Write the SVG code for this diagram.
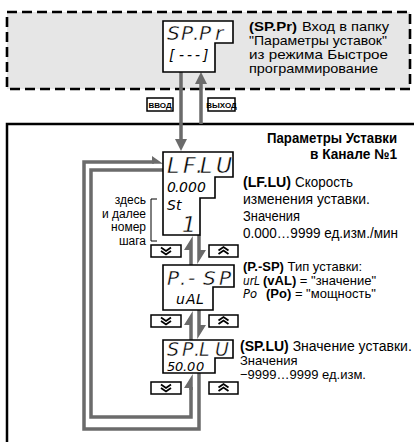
<svg xmlns="http://www.w3.org/2000/svg" width="414" height="442" viewBox="0 0 414 442">
<style>
.disp{fill:#fff;stroke:#000;stroke-width:1.6}
.seg{font-family:"DejaVu Sans",sans-serif;font-style:italic;fill:#000;stroke:#fff;stroke-width:0.4}
.segs{font-family:"DejaVu Sans",sans-serif;font-style:italic;fill:#000}
.segi{font-family:"DejaVu Sans",sans-serif;font-style:italic;font-size:11.5px;fill:#000}
.t{font-family:"Liberation Sans",Arial,sans-serif;font-size:14px;fill:#000}
.s{font-size:13px}
.n{font-size:12px;text-anchor:end}
.b{font-weight:bold}
.arr{fill:#6b6b6b}
.loop{fill:none;stroke:#6b6b6b;stroke-width:3.5}
.btn{fill:#fff;stroke:#000;stroke-width:1.5}
.chev{fill:none;stroke:#000;stroke-width:1.8}
.lbl{font-family:"Liberation Sans",Arial,sans-serif;font-size:8px;font-weight:bold;text-anchor:middle}
</style>
<rect width="414" height="442" fill="#fff"/>
<rect x="7" y="12" width="403" height="77" fill="#e6e6e6" stroke="#000" stroke-width="2.6" stroke-dasharray="10 5"/>
<rect x="7" y="124" width="420" height="330" fill="none" stroke="#000" stroke-width="2.5"/>

<g id="connectors">
  <rect x="179.25" y="72" width="3.5" height="68" class="arr"/>
  <polygon points="175,139 187,139 181,151" class="arr"/>
  <rect x="199.25" y="83" width="3.5" height="41" class="arr"/>
  <polygon points="195,84 207,84 201,72" class="arr"/>
  <g id="btn-enter"><rect x="147" y="98" width="26" height="13" class="btn"/><text x="160" y="107.5" class="lbl">ВВОД</text></g>
  <g id="btn-exit"><rect x="208" y="98" width="27" height="13" class="btn"/><text x="221.5" y="107.5" class="lbl">ВЫХОД</text></g>
  <polygon points="192.75,236 192.75,265 189.25,265 189.25,250 184,250" class="arr"/>
  <polygon points="197.25,235 200.75,235 200.75,250 206,250 197.25,264" class="arr"/>
  <polygon points="192.75,311 192.75,340 189.25,340 189.25,325 184,325" class="arr"/>
  <polygon points="197.25,310 200.75,310 200.75,325 206,325 197.25,339" class="arr"/>
  <polyline points="199,373 199,429 84,429 84,162 154,162" class="loop"/>
  <polygon points="152,160.25 152,163.75 163,163.75 152,156" class="arr"/>
  <polyline points="163,170 91,170 91,417 191,417 191,387" class="loop"/>
  <polygon points="192.75,374 192.75,390 189.25,390 189.25,388 184,388" class="arr"/>
  <g id="btns1">
    <rect x="151" y="245" width="30" height="12" class="btn"/>
    <polyline points="161,247.5 166,251 171,247.5" class="chev"/><polyline points="161,251 166,254.5 171,251" class="chev"/>
    <rect x="209" y="245" width="29" height="12" class="btn"/>
    <polyline points="218.5,250.5 223.5,247 228.5,250.5" class="chev"/><polyline points="218.5,254 223.5,250.5 228.5,254" class="chev"/>
  </g>
  <g id="btns2">
    <rect x="151" y="315" width="30" height="12" class="btn"/>
    <polyline points="161,317.5 166,321 171,317.5" class="chev"/><polyline points="161,321 166,324.5 171,321" class="chev"/>
    <rect x="209" y="315" width="29" height="12" class="btn"/>
    <polyline points="218.5,320.5 223.5,317 228.5,320.5" class="chev"/><polyline points="218.5,324 223.5,320.5 228.5,324" class="chev"/>
  </g>
  <g id="btns3">
    <rect x="151" y="382" width="30" height="12" class="btn"/>
    <polyline points="161,384.5 166,388 171,384.5" class="chev"/><polyline points="161,388 166,391.5 171,388" class="chev"/>
    <rect x="209" y="382" width="29" height="12" class="btn"/>
    <polyline points="218.5,387.5 223.5,384 228.5,387.5" class="chev"/><polyline points="218.5,391 223.5,387.5 228.5,391" class="chev"/>
  </g>
</g>

<g id="node-sppr">
  <path d="M163,21 H233 V43 H215 V72 H163 Z" class="disp"/>
  <text class="seg" font-size="20" x="167 181 193 199 215" y="40">SP.Pr</text>
  <text class="segs" font-size="14" x="169 179 187 195 203" y="60">[---]</text>
  <text class="t s b" x="249" y="31" textLength="48" lengthAdjust="spacingAndGlyphs">(SP.Pr)</text>
  <text class="t s" x="302" y="31" textLength="87" lengthAdjust="spacingAndGlyphs">Вход в папку</text>
  <text class="t s" x="249" y="45" textLength="138" lengthAdjust="spacingAndGlyphs">"Параметры уставок"</text>
  <text class="t s" x="249" y="59" textLength="139" lengthAdjust="spacingAndGlyphs">из режима Быстрое</text>
  <text class="t s" x="249" y="73" textLength="129" lengthAdjust="spacingAndGlyphs">программирование</text>
</g>

<g id="header">
  <text class="t b" x="397" y="143" text-anchor="end" textLength="130" lengthAdjust="spacingAndGlyphs">Параметры Уставки</text>
  <text class="t b" x="397" y="159" text-anchor="end" textLength="87" lengthAdjust="spacingAndGlyphs">в Канале №1</text>
</g>

<g id="node-lflu">
  <path d="M163,152 H233 V177 H215 V198 H200 V235 H163 Z" class="disp"/>
  <text class="seg" font-size="22" x="167 183 196 200 216" y="173">LF.LU</text>
  <text class="segs" font-size="14" x="167 175 179 188 197" y="192">0.000</text>
  <text class="segs" font-size="14" x="167 176" y="210">St</text>
  <text class="seg" font-size="22" x="182" y="232">1</text>
  <text class="t b" x="243" y="187" textLength="48" lengthAdjust="spacingAndGlyphs">(LF.LU)</text>
  <text class="t" x="295" y="187" textLength="58" lengthAdjust="spacingAndGlyphs">Скорость</text>
  <text class="t" x="243" y="204" textLength="127" lengthAdjust="spacingAndGlyphs">изменения уставки.</text>
  <text class="t" x="243" y="221" textLength="57" lengthAdjust="spacingAndGlyphs">Значения</text>
  <text class="t" x="243" y="238" textLength="155" lengthAdjust="spacingAndGlyphs">0.000…9999 ед.изм./мин</text>
</g>

<g id="note-step">
  <path d="M157,199 H151 V241 H157" fill="none" stroke="#000" stroke-width="1"/>
  <text class="t n" x="146" y="204">здесь</text>
  <text class="t n" x="146" y="217.7">и далее</text>
  <text class="t n" x="146" y="231.3">номер</text>
  <text class="t n" x="146" y="245">шага</text>
</g>

<g id="node-psp">
  <path d="M163,265 H234 V287 H213 V310 H163 Z" class="disp"/>
  <text class="seg" font-size="20" x="167 180 188 203 219" y="285">P.-SP</text>
  <text class="segs" font-size="14" x="176 186 196" y="304">uAL</text>
  <text class="t s" x="243" y="271"><tspan class="b">(P.-SP)</tspan> Тип уставки:</text>
  <text class="segi" x="243" y="284.5" textLength="17" lengthAdjust="spacingAndGlyphs">urL</text>
  <text class="t s" x="263" y="284.5"><tspan class="b">(vAL)</tspan> = "значение"</text>
  <text class="segi" x="243" y="298">Po</text>
  <text class="t s" x="266" y="298"><tspan class="b">(Po)</tspan> = "мощность"</text>
</g>

<g id="node-splu">
  <path d="M163,340 H233 V358 H215 V373 H163 Z" class="disp"/>
  <text class="seg" font-size="19" x="167 182 194 199 215" y="356">SP.LU</text>
  <text class="segs" font-size="13" x="167 175 183 187 196" y="371">50.00</text>
  <text class="t" x="240" y="351"><tspan class="b">(SP.LU)</tspan> Значение уставки.</text>
  <text class="t s" x="240" y="365">Значения</text>
  <text class="t s" x="240" y="379">−9999…9999 ед.изм.</text>
</g>
</svg>
